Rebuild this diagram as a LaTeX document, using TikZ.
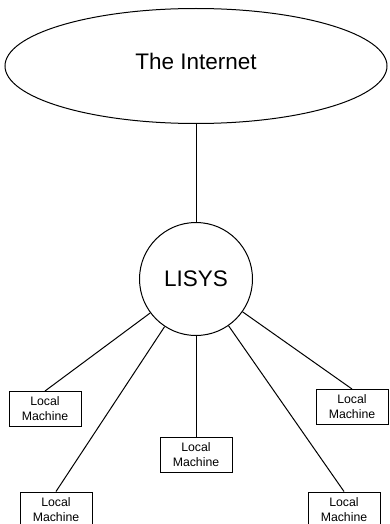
\documentclass[tikz,border=0pt]{standalone}
\usepackage{fontspec}
\setmainfont{Liberation Sans}
\usetikzlibrary{positioning, shapes}

\begin{document}
\begin{tikzpicture}[
    x=1pt, y=-1pt,
    node distance=98pt and 60pt,
    every node/.style={align=center, line width=1pt},
    network/.style={ellipse, draw, minimum width=382pt, minimum height=115pt, text depth=10pt, font=\fontsize{22.5}{25}\selectfont},
    hub/.style={circle, draw, minimum size=113pt, font=\fontsize{22.5}{25}\selectfont},
    machine/.style={rectangle, draw, minimum width=72pt, minimum height=35pt, inner sep=1pt, font=\fontsize{12.3}{15}\selectfont},
    link/.style={line width=1pt}
]
\useasboundingbox (0,0) rectangle (389,524);

% The Internet and the LISYS server
\node[network] (internet) at (196,66) {The Internet};
\node[hub, below=98pt of internet] (lisys) {LISYS};

% Local machines
\node[machine] (mach1) at (45,409) {Local\\Machine};
\node[machine] (mach2) at (56,509.5) {Local\\Machine};
\node[machine, below=101pt of lisys] (mach3) {Local\\Machine};
\node[machine] (mach4) at (352,407) {Local\\Machine};
\node[machine] (mach5) at (344,509.5) {Local\\Machine};

% Connections
\draw[link] (internet) -- (lisys);
\draw[link] (lisys) -- (mach1.north);
\draw[link] (lisys) -- (mach2.north);
\draw[link] (lisys) -- (mach3.north);
\draw[link] (lisys) -- (mach4.north);
\draw[link] (lisys) -- (mach5.north);

\end{tikzpicture}
\end{document}
